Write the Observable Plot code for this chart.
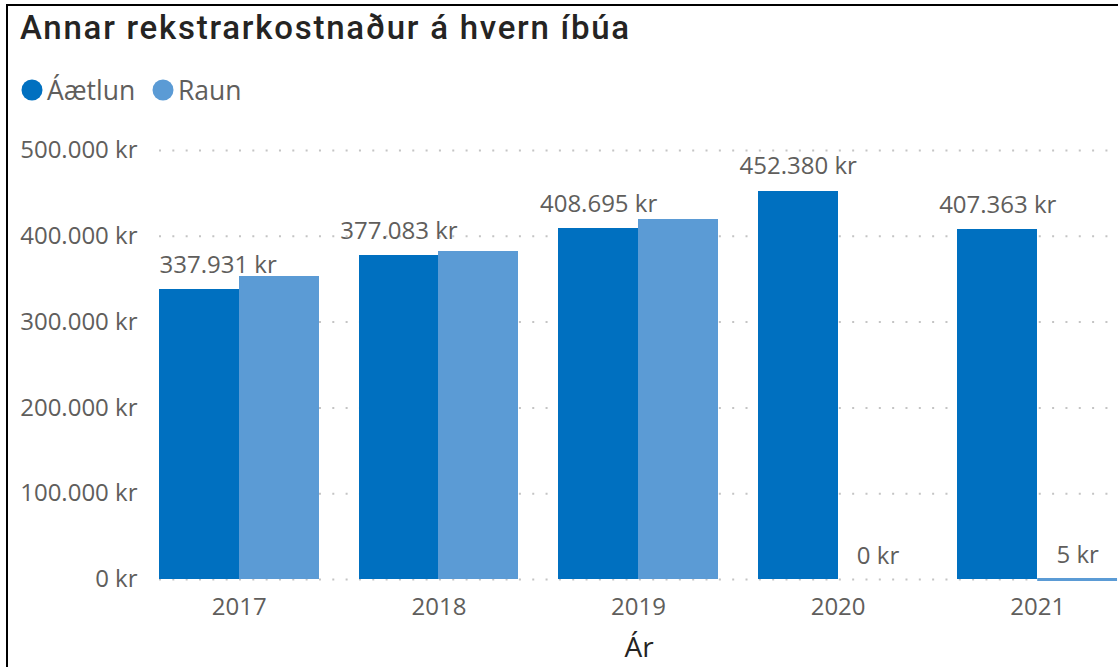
<!DOCTYPE html>
<html><head><meta charset="utf-8">
<script src="https://cdn.jsdelivr.net/npm/d3@7"></script>
<script src="https://cdn.jsdelivr.net/npm/@observablehq/plot@0.6"></script>
<style>
html,body{margin:0;padding:0;background:#fff;overflow:hidden}
#wrap{position:relative;width:1118px;height:667px;overflow:hidden;font-family:"Open Sans",sans-serif;background:#fff}
#frame{position:absolute;left:6px;top:4px;width:1300px;height:800px;border-left:2px solid #000;border-top:2px solid #000;box-sizing:border-box}
#title{position:absolute;left:20px;top:8px;font-family:Roboto,sans-serif;font-weight:500;font-size:33px;letter-spacing:1.75px;line-height:40px;color:#252423;white-space:nowrap}
#legend{position:absolute;left:0;top:0}
#chart{position:absolute;left:0;top:0}
</style></head>
<body>
<div id="wrap">
  <div id="frame"></div>
  <div id="chart"></div>
  <div id="title">Annar rekstrarkostnaður á hvern íbúa</div>
  <svg id="legend" width="300" height="120"></svg>
</div>
<script>
// ---- data ----
const years = ["2017", "2018", "2019", "2020", "2021"];
const aaetlun = [337931, 377083, 408695, 452380, 407363];
const raun = [353100, 382300, 419600, 0, 5];
const seriesNames = ["Áætlun", "Raun"];
const yTicks = [0, 100000, 200000, 300000, 400000, 500000];
const xTitle = "Ár";

const colA = "#0070C0", colR = "#5B9BD5", grey = "#605E5C";

const loc = d3.formatLocale({decimal: ",", thousands: ".", grouping: [3], currency: ["", ""]});
const f = loc.format(",.0f");
const fmt = v => f(v) + " kr";

const A = years.map((y, i) => ({year: y, value: aaetlun[i], series: seriesNames[0]}));
const R = years.map((y, i) => ({year: y, value: raun[i], series: seriesNames[1]}));

const xRange = [139, 1137];
const band = d3.scaleBand(years, xRange).paddingInner(0.2).paddingOuter(0.1);
const half = band.bandwidth() / 2;
const fs = 24;

const plot = Plot.plot({
  width: 1118, height: 667,
  marginTop: 150, marginBottom: 88, marginLeft: 159, marginRight: 0,
  style: {fontFamily: '"Open Sans", sans-serif', fontSize: fs + "px", color: grey, background: "transparent", overflow: "visible"},
  x: {domain: years, range: xRange, paddingInner: 0.2, paddingOuter: 0.1, round: false, axis: null},
  y: {domain: [0, 500000], axis: null},
  marks: [
    Plot.gridY(yTicks, {stroke: "#c4c4c4", strokeOpacity: 1, strokeWidth: 2, strokeDasharray: "2,11.33"}),
    Plot.barY(A, {x: "year", y: "value", fill: colA, insetRight: half, shapeRendering: "crispEdges"}),
    Plot.barY(R, {x: "year", y: "value", fill: colR, insetLeft: half, shapeRendering: "crispEdges"}),
    Plot.tickY(R.filter(d => d.value > 0 && d.value < 1000), {x: "year", y: "value", stroke: colR, strokeWidth: 3, insetLeft: half}),
    Plot.axisY(yTicks, {tickSize: 0, tickPadding: 22, tickFormat: fmt, fontSize: fs, fill: grey, label: null}),
    Plot.axisX({tickSize: 0, tickPadding: 18, label: null, fontSize: fs, fill: grey}),
    // data labels (Power BI hides Raun labels that would collide)
    Plot.text(A.slice(0, 1), {x: "year", y: "value", text: d => fmt(d.value), textAnchor: "start", dx: -half, dy: -17, lineAnchor: "bottom", fill: grey, fontSize: fs}),
    Plot.text(A.slice(1), {x: "year", y: "value", text: d => fmt(d.value), dx: -half / 2, dy: -17, lineAnchor: "bottom", fill: grey, fontSize: fs}),
    Plot.text(R.slice(3), {x: "year", y: "value", text: d => fmt(d.value), dx: half / 2, dy: -16, lineAnchor: "bottom", fill: grey, fontSize: fs}),
    Plot.text([xTitle], {frameAnchor: "bottom", dy: 69, lineAnchor: "middle", fontSize: 28, fill: "#252423"})
  ]
});
document.getElementById("chart").appendChild(plot);

// legend
const lg = d3.select("#legend");
const items = [{name: seriesNames[0], color: colA, cx: 32, tx: 47}, {name: seriesNames[1], color: colR, cx: 163, tx: 178}];
items.forEach(it => {
  lg.append("circle").attr("cx", it.cx).attr("cy", 90).attr("r", 10.5).attr("fill", it.color);
  lg.append("text").attr("x", it.tx).attr("y", 100).text(it.name)
    .attr("fill", grey).style("font-family", '"Open Sans", sans-serif').style("font-size", "26.5px");
});
</script>
</body></html>
